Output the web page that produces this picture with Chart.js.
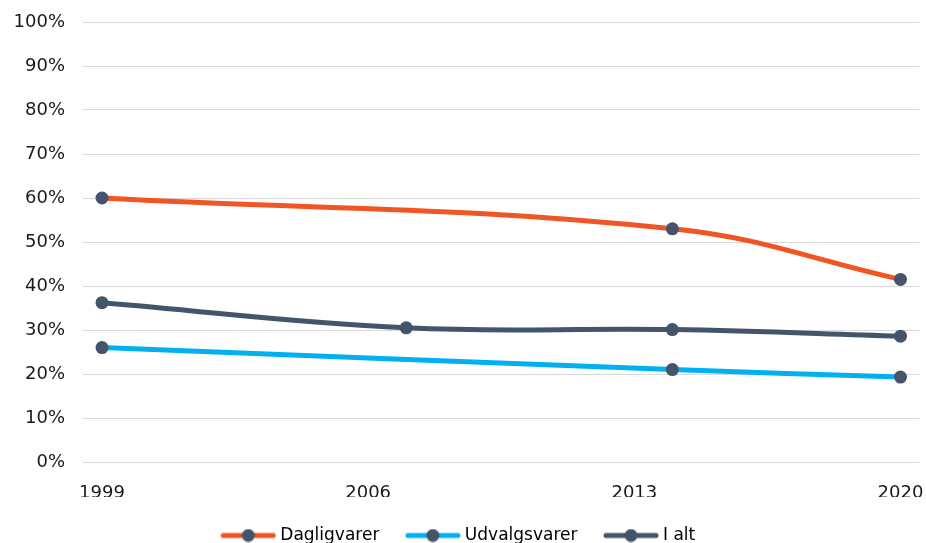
<!DOCTYPE html>
<html>
<head>
<meta charset="utf-8">
<script src="https://cdn.jsdelivr.net/npm/chart.js@4"></script>
<style>
html, body { margin: 0; padding: 0; width: 926px; height: 543px; overflow: hidden; background: #fff; }
#wrap { width: 926px; height: 554px; }
</style>
</head>
<body>
<div id="wrap"><canvas id="chart"></canvas></div>
<script>
// tick years on the x axis
const tickYears = [1999, 2006, 2013, 2020];
const yTicks = [0, 10, 20, 30, 40, 50, 60, 70, 80, 90, 100];

// series (years with a marker, share in %)
const dagligYears = [1999, 2014, 2020];
const dagligValues = [60, 53, 41.5];
const udvalgYears = [1999, 2014, 2020];
const udvalgValues = [26, 21, 19.3];
const ialtYears = [1999, 2007, 2014, 2020];
const ialtValues = [36.2, 30.5, 30.1, 28.6];

const seriesNames = ['Dagligvarer', 'Udvalgsvarer', 'I alt'];
const lineColors = ['#F05523', '#00B0F0', '#44546A'];
const markerColor = '#44546A';

function toPoints(xs, ys) {
    return xs.map((x, i) => ({ x: x, y: ys[i] }));
}

// small line-with-dot picture for the legend
function legendIcon(color) {
    let c = document.createElement('canvas');
    c.width = 56;
    c.height = 14;
    let ctx = c.getContext('2d');
    ctx.strokeStyle = color;
    ctx.lineWidth = 5;
    ctx.lineCap = 'round';
    ctx.beginPath();
    ctx.moveTo(3, 7);
    ctx.lineTo(53, 7);
    ctx.stroke();
    ctx.fillStyle = markerColor;
    ctx.beginPath();
    ctx.arc(28, 7, 6.5, 0, Math.PI * 2);
    ctx.fill();
    return c;
}

Chart.defaults.font.family = '"DejaVu Sans", Verdana, sans-serif';
Chart.defaults.font.size = 18;
Chart.defaults.color = '#1a1a1a';

const allData = [
    toPoints(dagligYears, dagligValues),
    toPoints(udvalgYears, udvalgValues),
    toPoints(ialtYears, ialtValues)
];

new Chart(document.getElementById('chart'), {
    type: 'line',
    data: {
        datasets: allData.map((d, i) => ({
            label: seriesNames[i],
            data: d,
            borderColor: lineColors[i],
            backgroundColor: lineColors[i],
            borderWidth: 5,
            tension: 0.4,
            pointRadius: 6.5,
            pointHoverRadius: 6.5,
            pointBackgroundColor: markerColor,
            pointBorderColor: markerColor,
            pointBorderWidth: 0
        }))
    },
    options: {
        responsive: true,
        maintainAspectRatio: false,
        animation: false,
        layout: { padding: { left: 0, right: 6, top: 22, bottom: 0 } },
        plugins: {
            tooltip: { enabled: false },
            legend: {
                position: 'bottom',
                labels: {
                    usePointStyle: true,
                    pointStyleWidth: 47,
                    padding: 30,
                    font: { size: 17 },
                    color: '#1a1a1a',
                    generateLabels: chart => chart.data.datasets.map((ds, i) => ({
                        text: ds.label,
                        pointStyle: legendIcon(lineColors[i]),
                        fillStyle: lineColors[i],
                        strokeStyle: lineColors[i],
                        lineWidth: 0,
                        hidden: false,
                        datasetIndex: i
                    }))
                }
            }
        },
        scales: {
            x: {
                type: 'linear',
                min: 1998.5,
                max: 2020.5,
                afterBuildTicks: scale => {
                    scale.ticks = tickYears.map(v => ({ value: v }));
                },
                afterFit: scale => {
                    scale.height = 35;
                    scale.paddingLeft = 0;
                    scale.paddingRight = 0;
                },
                grid: { display: false },
                border: { display: false },
                ticks: {
                    padding: 13,
                    callback: v => String(v),
                    maxRotation: 0
                }
            },
            y: {
                min: 0,
                max: 100,
                afterBuildTicks: scale => {
                    scale.ticks = yTicks.map(v => ({ value: v }));
                },
                afterFit: scale => {
                    scale.width = 83;
                    scale.paddingTop = 0;
                    scale.paddingBottom = 0;
                },
                grid: { color: '#D9D9D9', lineWidth: 1, drawTicks: false },
                border: { display: false },
                ticks: {
                    padding: 18,
                    callback: v => v + '%'
                }
            }
        }
    }
});
</script>
</body>
</html>
